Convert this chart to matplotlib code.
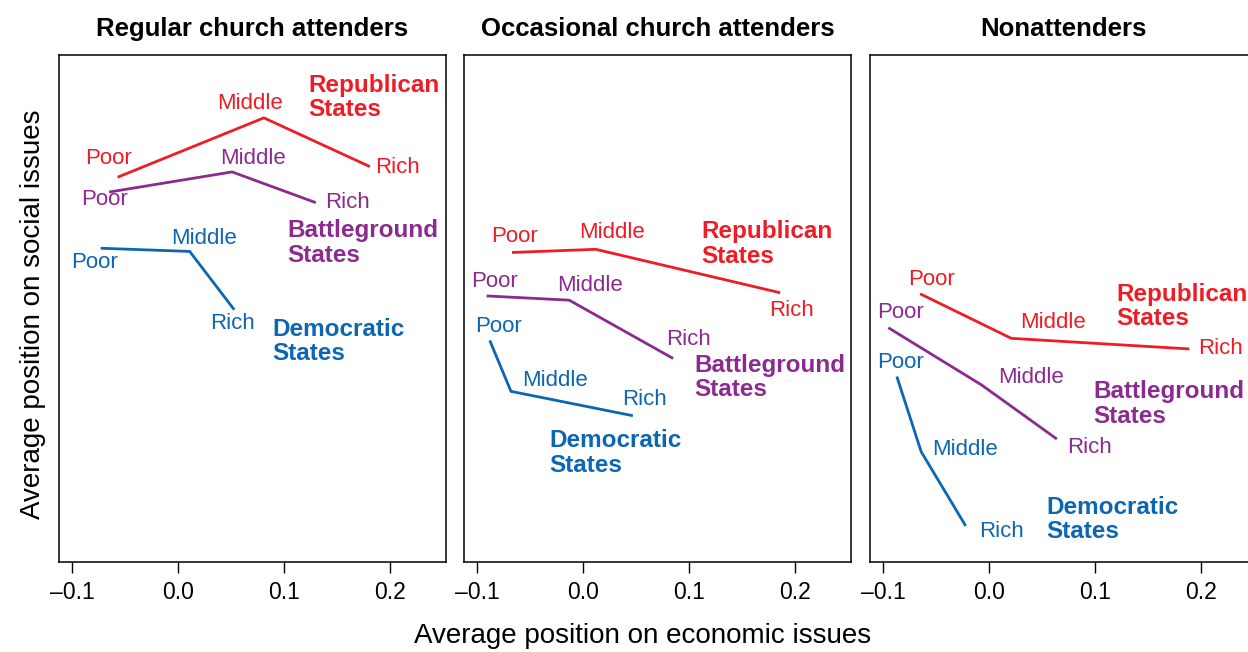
import matplotlib
matplotlib.use("Agg")
import matplotlib.pyplot as plt

plt.rcParams['font.family'] = ['Liberation Sans', 'DejaVu Sans']

# panels and groups
panels = ['Regular church attenders', 'Occasional church attenders', 'Nonattenders']
groups = ['Republican\nStates', 'Battleground\nStates', 'Democratic\nStates']
incomes = ['Poor', 'Middle', 'Rich']
colors = ['#EE1C25', '#8B2A8F', '#0D66B2']

# average position on economic issues (x), per panel, per group: Poor, Middle, Rich
econ_regular = [[-0.057, 0.081, 0.181], [-0.065, 0.051, 0.130], [-0.073, 0.011, 0.053]]
econ_occasional = [[-0.067, 0.012, 0.186], [-0.091, -0.013, 0.085], [-0.088, -0.068, 0.047]]
econ_non = [[-0.065, 0.021, 0.189], [-0.095, -0.007, 0.064], [-0.087, -0.064, -0.022]]

# average position on social issues (y)
social_regular = [[0.063, 0.119, 0.073], [0.049, 0.068, 0.039], [-0.004, -0.007, -0.062]]
social_occasional = [[-0.008, -0.005, -0.046], [-0.049, -0.053, -0.108], [-0.091, -0.139, -0.162]]
social_non = [[-0.047, -0.089, -0.099], [-0.079, -0.133, -0.184], [-0.125, -0.196, -0.266]]

econ = [econ_regular, econ_occasional, econ_non]
social = [social_regular, social_occasional, social_non]

# label offsets in pixels (dx, dy up) for Poor/Middle/Rich labels
label_offsets = [
    [[(-9, 19), (-14, 14), (28, -1)], [(-5, -7), (21, 13), (32, 0)], [(-6, -14), (14, 13), (-2, -14)]],
    [[(2, 16), (16, 17), (11, -18)], [(8, 14), (21, 15), (15, 19)], [(9, 14), (44, 11), (12, 16)]],
    [[(11, 14), (42, 16), (31, 0)], [(12, 15), (49, 7), (33, -8)], [(4, 14), (44, 2), (36, -6)]],
]
# group label anchor (left, vertical centre) in data coords
group_pos = [
    [(0.123, 0.138), (0.103, 0.001), (0.089, -0.092)],
    [(0.112, 0.000), (0.105, -0.126), (-0.032, -0.197)],
    [(0.120, -0.059), (0.098, -0.151), (0.054, -0.260)],
]

fig = plt.figure(figsize=(12.48, 6.52), dpi=100)
lefts = [59 / 1248, 464 / 1248, 870 / 1248]
for p in range(3):
    ax = fig.add_axes([lefts[p], 90 / 652, 387 / 1248, 507 / 652])
    for g in range(3):
        xs, ys = econ[p][g], social[p][g]
        ax.plot(xs, ys, color=colors[g], lw=2.0, solid_capstyle='butt')
        for i in range(3):
            dx, dy = label_offsets[p][g][i]
            ax.annotate(incomes[i], (xs[i], ys[i]), xytext=(dx, dy),
                        textcoords='offset pixels', ha='center', va='center',
                        color=colors[g], fontsize=16)
        gx, gy = group_pos[p][g]
        ax.text(gx, gy, groups[g], color=colors[g], fontsize=17.5,
                fontweight='bold', ha='left', va='center', linespacing=1.08)
    ax.set_xlim(-0.1123, 0.2528)
    ax.set_ylim(-0.300, 0.1783)
    ax.set_yticks([])
    ax.set_xticks([-0.1, 0.0, 0.1, 0.2])
    ax.set_xticklabels(['\u20130.1', '0.0', '0.1', '0.2'])
    ax.tick_params(axis='x', direction='out', length=8, width=1, labelsize=16.5, pad=6)
    for s in ax.spines.values():
        s.set_linewidth(1.1)
    ax.set_title(panels[p], fontsize=18.5, fontweight='bold', pad=14)

fig.text(643 / 1248, 1 - 636 / 652, 'Average position on economic issues',
         ha='center', va='center', fontsize=20)
fig.text(33 / 1248, 1 - 314 / 652, 'Average position on social issues',
         ha='center', va='center', rotation=90, fontsize=20)

fig.savefig('out.png', dpi=100)
